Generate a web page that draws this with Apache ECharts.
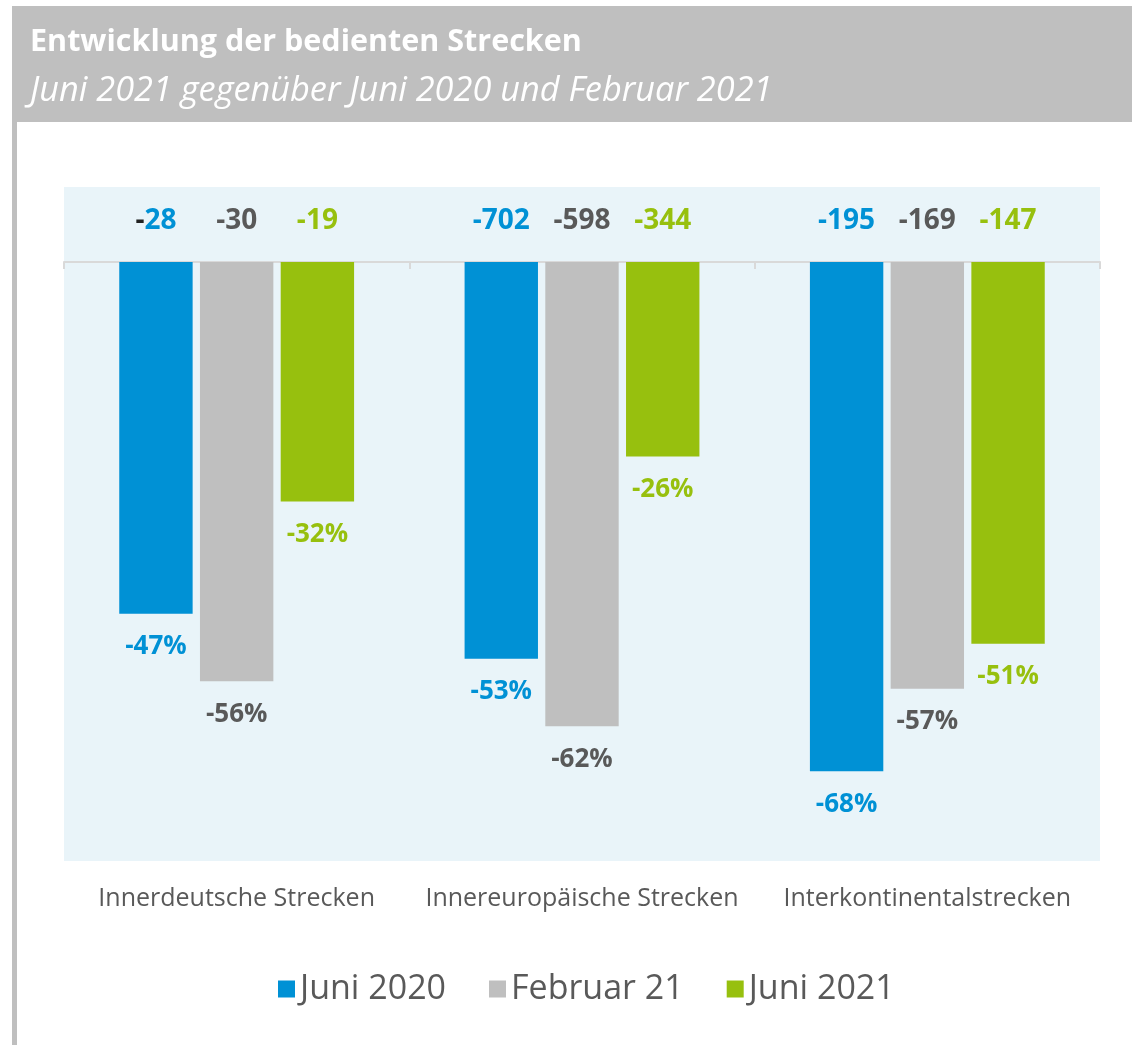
<!DOCTYPE html>
<html>
<head>
<meta charset="utf-8">
<script src="https://cdn.jsdelivr.net/npm/echarts@6/dist/echarts.min.js"></script>
<style>
  html, body { margin: 0; padding: 0; background: #fff; }
  #chart { width: 1132px; height: 1045px; }
</style>
</head>
<body>
<div id="chart"></div>
<script>
// Kategorien und Werte
const categories = ['Innerdeutsche Strecken', 'Innereuropäische Strecken', 'Interkontinentalstrecken'];
const seriesNames = ['Juni 2020', 'Februar 21', 'Juni 2021'];

// Veränderung in Prozent
const pctJuni2020 = [-47, -53, -68];
const pctFebruar21 = [-56, -62, -57];
const pctJuni2021 = [-32, -26, -51];

// Veränderung absolut (Anzahl Strecken)
const absJuni2020 = [-28, -702, -195];
const absFebruar21 = [-30, -598, -169];
const absJuni2021 = [-19, -344, -147];

const colors = ['#0091d5', '#bfbfbf', '#97c00e'];
const textColors = ['#0091d5', '#595959', '#97c00e'];
const FONT = '"Open Sans", sans-serif';

const pctData = [pctJuni2020, pctFebruar21, pctJuni2021];
const absData = [absJuni2020, absFebruar21, absJuni2021];

const chart = echarts.init(document.getElementById('chart'));

const barSeries = pctData.map((vals, i) => ({
  name: seriesNames[i],
  type: 'bar',
  xAxisIndex: 0,
  data: vals,
  barGap: '10%',
  barCategoryGap: '32%',
  itemStyle: { color: colors[i] },
  label: {
    show: true,
    position: 'outside',
    distance: 20,
    formatter: p => p.value + '%',
    color: textColors[i],
    fontFamily: FONT,
    fontWeight: 'bold',
    fontSize: 26
  }
}));

// unsichtbare Kopie der Balken, nur für die absoluten Werte über der Nulllinie
const absSeries = pctData.map((vals, i) => ({
  name: seriesNames[i] + ' abs',
  type: 'bar',
  xAxisIndex: 1,
  data: vals,
  barGap: '10%',
  barCategoryGap: '32%',
  itemStyle: { color: 'rgba(0,0,0,0)' },
  silent: true,
  label: {
    show: true,
    position: 'top',
    distance: 27,
    formatter: p => {
      const v = absData[i][p.dataIndex];
      // im Original ist beim ersten Wert das Minus schwarz
      if (i === 0 && p.dataIndex === 0) return '{m|-}{v|' + Math.abs(v) + '}';
      return String(v);
    },
    color: textColors[i],
    fontFamily: FONT,
    fontWeight: 'bold',
    fontSize: 28,
    rich: {
      m: { color: '#222', fontFamily: FONT, fontWeight: 'bold', fontSize: 28 },
      v: { color: textColors[0], fontFamily: FONT, fontWeight: 'bold', fontSize: 28 }
    }
  }
}));

chart.setOption({
  animation: false,
  graphic: [
    { type: 'rect', left: 12, top: 6, shape: { width: 1120, height: 116 }, style: { fill: '#bfbfbf' }, z: 0 },
    { type: 'rect', left: 12, top: 122, shape: { width: 5, height: 923 }, style: { fill: '#bfbfbf' }, z: 0 },
    {
      type: 'text', left: 30, top: 27, z: 10,
      style: { text: 'Entwicklung der bedienten Strecken', fill: '#fff', font: 'bold 30.5px "Open Sans", sans-serif' }
    },
    {
      type: 'text', left: 30, top: 74, z: 10,
      style: { text: 'Juni 2021 gegenüber Juni 2020 und Februar 2021', fill: '#fff', font: 'italic 34.3px "Open Sans", sans-serif' }
    }
  ],
  legend: {
    top: 967,
    left: 273,
    data: seriesNames,
    icon: 'rect',
    itemWidth: 17,
    itemHeight: 17,
    itemGap: 43,
    textStyle: { color: '#595959', fontFamily: FONT, fontSize: 34 }
  },
  grid: {
    left: 64, right: 32, top: 187, bottom: 184,
    show: true, backgroundColor: '#e9f4f9', borderWidth: 0
  },
  xAxis: [
    {
      type: 'category',
      data: categories,
      position: 'bottom',
      axisLine: { onZero: true, lineStyle: { color: '#d9d9d9', width: 2 } },
      axisTick: { show: true, length: 7, lineStyle: { color: '#d9d9d9', width: 2 } },
      axisLabel: { show: false },
      splitLine: { show: false }
    },
    {
      type: 'category',
      data: categories,
      position: 'bottom',
      axisLine: { show: false, onZero: false },
      axisTick: { show: false },
      axisLabel: { show: true, interval: 0, margin: 25, color: '#595959', fontFamily: FONT, fontSize: 25 },
      splitLine: { show: false }
    }
  ],
  yAxis: {
    type: 'value',
    min: -80,
    max: 10,
    interval: 10,
    show: false,
    splitLine: { show: false }
  },
  series: [...absSeries, ...barSeries]
});
</script>
</body>
</html>
